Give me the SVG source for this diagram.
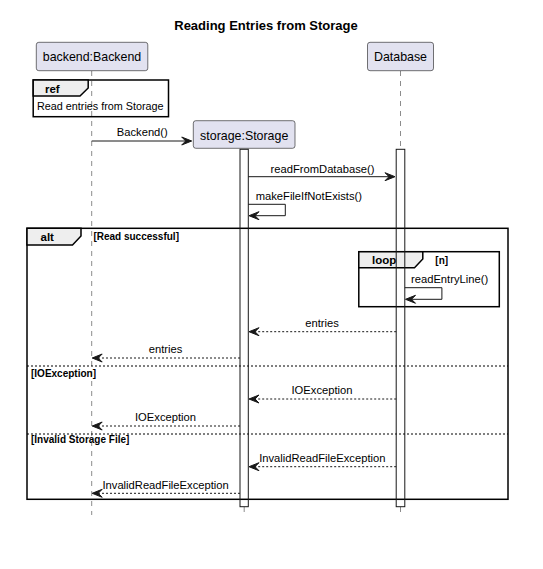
<svg xmlns="http://www.w3.org/2000/svg" width="543" height="569" viewBox="0 0 543 569">
  <style>
    text { font-family: "Liberation Sans", Arial, sans-serif; fill: #000; }
    .title { font-size: 13px; font-weight: bold; text-anchor: middle; }
    .part rect { fill: #E2E2F0; stroke: #181818; stroke-width: 0.6; }
    .part text { font-size: 12.4px; text-anchor: middle; fill: #000; }
    .life { stroke: #181818; stroke-width: 0.5; stroke-dasharray: 5 5; fill: none; }
    .act { fill: none; stroke: #181818; stroke-width: 1; }
    .frame { fill: none; stroke: #000; stroke-width: 1.5; }
    .tab { fill: #EEEEEE; stroke: #000; stroke-width: 1.5; }
    .kw { font-size: 11.5px; font-weight: bold; }
    .guard { font-size: 10px; font-weight: bold; }
    .sep { stroke: #000; stroke-width: 1; stroke-dasharray: 2 2; fill: none; }
    .msg { stroke: #181818; stroke-width: 1; fill: none; }
    .ret { stroke: #181818; stroke-width: 1; stroke-dasharray: 2 2; fill: none; }
    .lbl { font-size: 11.2px; text-anchor: middle; }
    .lbl-l { font-size: 11.2px; }
    .head { fill: #181818; stroke: #181818; stroke-width: 1; }
  </style>
  <defs>
    <!-- notched arrowhead, tip at origin pointing right -->
    <path id="headR" d="M0,0 L-10,-4 L-6,0 L-10,4 Z"/>
    <path id="headL" d="M0,0 L10,-4 L6,0 L10,4 Z"/>
  </defs>

  <rect width="543" height="569" fill="#fff"/>

  <text class="title" x="266" y="29.5">Reading Entries from Storage</text>

  <!-- lifelines -->
  <g id="lifelines">
    <line class="life" x1="91.7" y1="71" x2="91.7" y2="515"/>
    <line class="life" x1="244.2" y1="507" x2="244.2" y2="515"/>
    <line class="life" x1="400.5" y1="71" x2="400.5" y2="149"/>
    <line class="life" x1="400.5" y1="507" x2="400.5" y2="515"/>
  </g>

  <!-- participants -->
  <g id="backend" class="part">
    <rect x="36.3" y="42.3" width="111.5" height="28.4" rx="2.5"/>
    <text x="92" y="60.5">backend:Backend</text>
  </g>
  <g id="database" class="part">
    <rect x="367.5" y="42.3" width="66" height="28.4" rx="2.5"/>
    <text x="400.5" y="60.5">Database</text>
  </g>
  <g id="storage" class="part">
    <rect x="193.3" y="120.7" width="101.7" height="27.6" rx="2.5"/>
    <text x="244.2" y="139.5">storage:Storage</text>
  </g>

  <!-- reference frame -->
  <g id="ref-frame">
    <rect class="frame" x="33.2" y="80" width="135.3" height="36.7"/>
    <path class="tab" d="M33.2,80 L88.2,80 L88.2,88 L80,96 L33.2,96 Z"/>
    <text class="kw" x="45" y="93.3">ref</text>
    <text x="37" y="110" style="font-size:10.8px">Read entries from Storage</text>
  </g>

  <!-- alt frame -->
  <g id="alt-frame">
    <rect class="frame" x="27" y="228.3" width="481" height="271"/>
    <path class="tab" d="M27,228.3 L81,228.3 L81,236 L72.5,245 L27,245 Z"/>
    <text class="kw" x="40.5" y="240.7">alt</text>
    <text class="guard" x="93.4" y="240.3">[Read successful]</text>
    <line class="sep" x1="27" y1="366" x2="508" y2="366"/>
    <text class="guard" x="31" y="376.7">[IOException]</text>
    <line class="sep" x1="27" y1="434" x2="508" y2="434"/>
    <text class="guard" x="31" y="443.3">[Invalid Storage File]</text>
  </g>

  <!-- loop frame -->
  <g id="loop-frame">
    <rect class="frame" x="358.8" y="251.7" width="140.5" height="55"/>
    <path class="tab" d="M358.8,251.7 L422.8,251.7 L422.8,259 L414.5,267.7 L358.8,267.7 Z"/>
    <text class="kw" x="372" y="264">loop</text>
    <text class="guard" x="435.3" y="264">[n]</text>
  </g>

  <!-- activations -->
  <g id="activations">
    <rect class="act" x="240" y="149.3" width="8.3" height="357.4"/>
    <rect class="act" x="396.2" y="149.3" width="8.6" height="357.4"/>
  </g>

  <!-- messages -->
  <g id="connectors">
    <line class="msg" x1="91.7" y1="141" x2="190" y2="141"/>
    <use href="#headR" class="head" x="191.7" y="141"/>
    <text class="lbl" x="142.3" y="136">Backend()</text>

    <line class="msg" x1="248.3" y1="176.7" x2="393" y2="176.7"/>
    <use href="#headR" class="head" x="395" y="176.7"/>
    <text class="lbl" x="322.5" y="172.8">readFromDatabase()</text>

    <path class="msg" d="M248.3,204.3 H285.3 V215.7 H251"/>
    <use href="#headL" class="head" x="249" y="215.7"/>
    <text class="lbl-l" x="255.7" y="199.8">makeFileIfNotExists()</text>

    <path class="msg" d="M404.8,287.7 H441.9 V299.3 H407"/>
    <use href="#headL" class="head" x="405.5" y="299.3"/>
    <text class="lbl-l" x="411" y="283.3">readEntryLine()</text>

    <line class="ret" x1="396.2" y1="331.7" x2="251" y2="331.7"/>
    <use href="#headL" class="head" x="249" y="331.7"/>
    <text class="lbl" x="322" y="326.7">entries</text>

    <line class="ret" x1="240" y1="358" x2="94" y2="358"/>
    <use href="#headL" class="head" x="92.2" y="358"/>
    <text class="lbl" x="165.5" y="353.3">entries</text>

    <line class="ret" x1="396.2" y1="399" x2="251" y2="399"/>
    <use href="#headL" class="head" x="249" y="399"/>
    <text class="lbl" x="322" y="394.3">IOException</text>

    <line class="ret" x1="240" y1="426" x2="94" y2="426"/>
    <use href="#headL" class="head" x="92.2" y="426"/>
    <text class="lbl" x="165.5" y="421">IOException</text>

    <line class="ret" x1="396.2" y1="466.7" x2="251" y2="466.7"/>
    <use href="#headL" class="head" x="249" y="466.7"/>
    <text class="lbl" x="322.3" y="461.7">InvalidReadFileException</text>

    <line class="ret" x1="240" y1="493.3" x2="94" y2="493.3"/>
    <use href="#headL" class="head" x="92.2" y="493.3"/>
    <text class="lbl" x="165.6" y="489">InvalidReadFileException</text>
  </g>
</svg>
